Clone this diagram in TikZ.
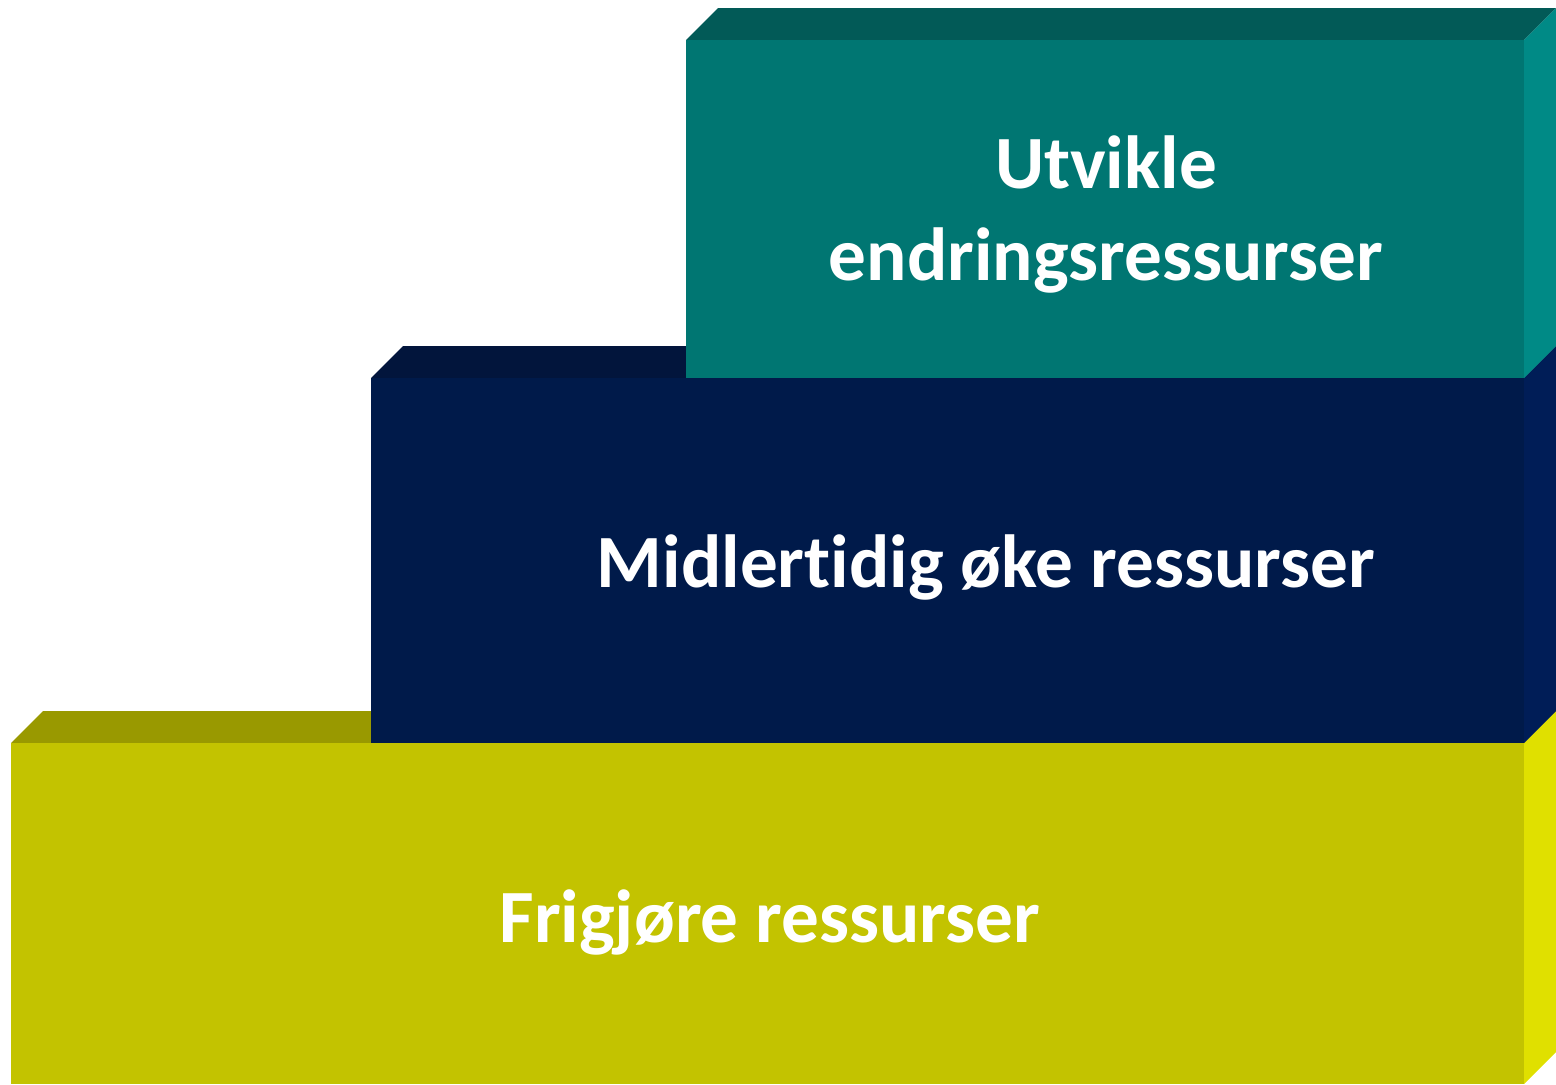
\documentclass[tikz,border=0pt]{standalone}
\usepackage{fontspec}
\setmainfont{Carlito}[Ligatures=NoCommon]
\definecolor{tealfront}{RGB}{0,118,114}
\definecolor{tealtop}{RGB}{2,90,87}
\definecolor{tealside}{RGB}{0,138,134}
\definecolor{navyfront}{RGB}{0,26,74}
\definecolor{navytop}{RGB}{2,21,60}
\definecolor{navyside}{RGB}{0,29,87}
\definecolor{olivefront}{RGB}{195,195,0}
\definecolor{olivetop}{RGB}{153,153,0}
\definecolor{oliveside}{RGB}{224,224,0}
\begin{document}
\begin{tikzpicture}[x=1bp,y=-1bp,
  lbl/.style={text=white,font=\bfseries\fontsize{75.5}{92}\selectfont,inner sep=0pt,anchor=base}]
\useasboundingbox (0,0) rectangle (1556,1084);
% bottom box
\fill[olivetop] (11,743) -- (43,711) -- (1556,711) -- (1524,743) -- cycle;
\fill[oliveside] (1524,743) -- (1556,711) -- (1556,1052) -- (1524,1084) -- cycle;
\fill[olivefront] (11,743) rectangle (1524,1084);
% middle box
\fill[navytop] (371,378) -- (403,346) -- (1556,346) -- (1524,378) -- cycle;
\fill[navyside] (1524,378) -- (1556,346) -- (1556,711) -- (1524,743) -- cycle;
\fill[navyfront] (371,378) rectangle (1524,743);
% top box
\fill[tealtop] (686,40) -- (718,8) -- (1556,8) -- (1524,40) -- cycle;
\fill[tealside] (1524,40) -- (1556,8) -- (1556,346) -- (1524,378) -- cycle;
\fill[tealfront] (686,40) rectangle (1524,378);
% labels
\node[lbl] (t1) at (1106,188) {Utvikle};
\node[lbl] (t2) at (1106,280) {endringsressurser};
\node[lbl] (m) at (986,587) {Midlertidig øke ressurser};
\node[lbl] (b) at (770,942) {Frigjøre ressurser};
\end{tikzpicture}
\end{document}
